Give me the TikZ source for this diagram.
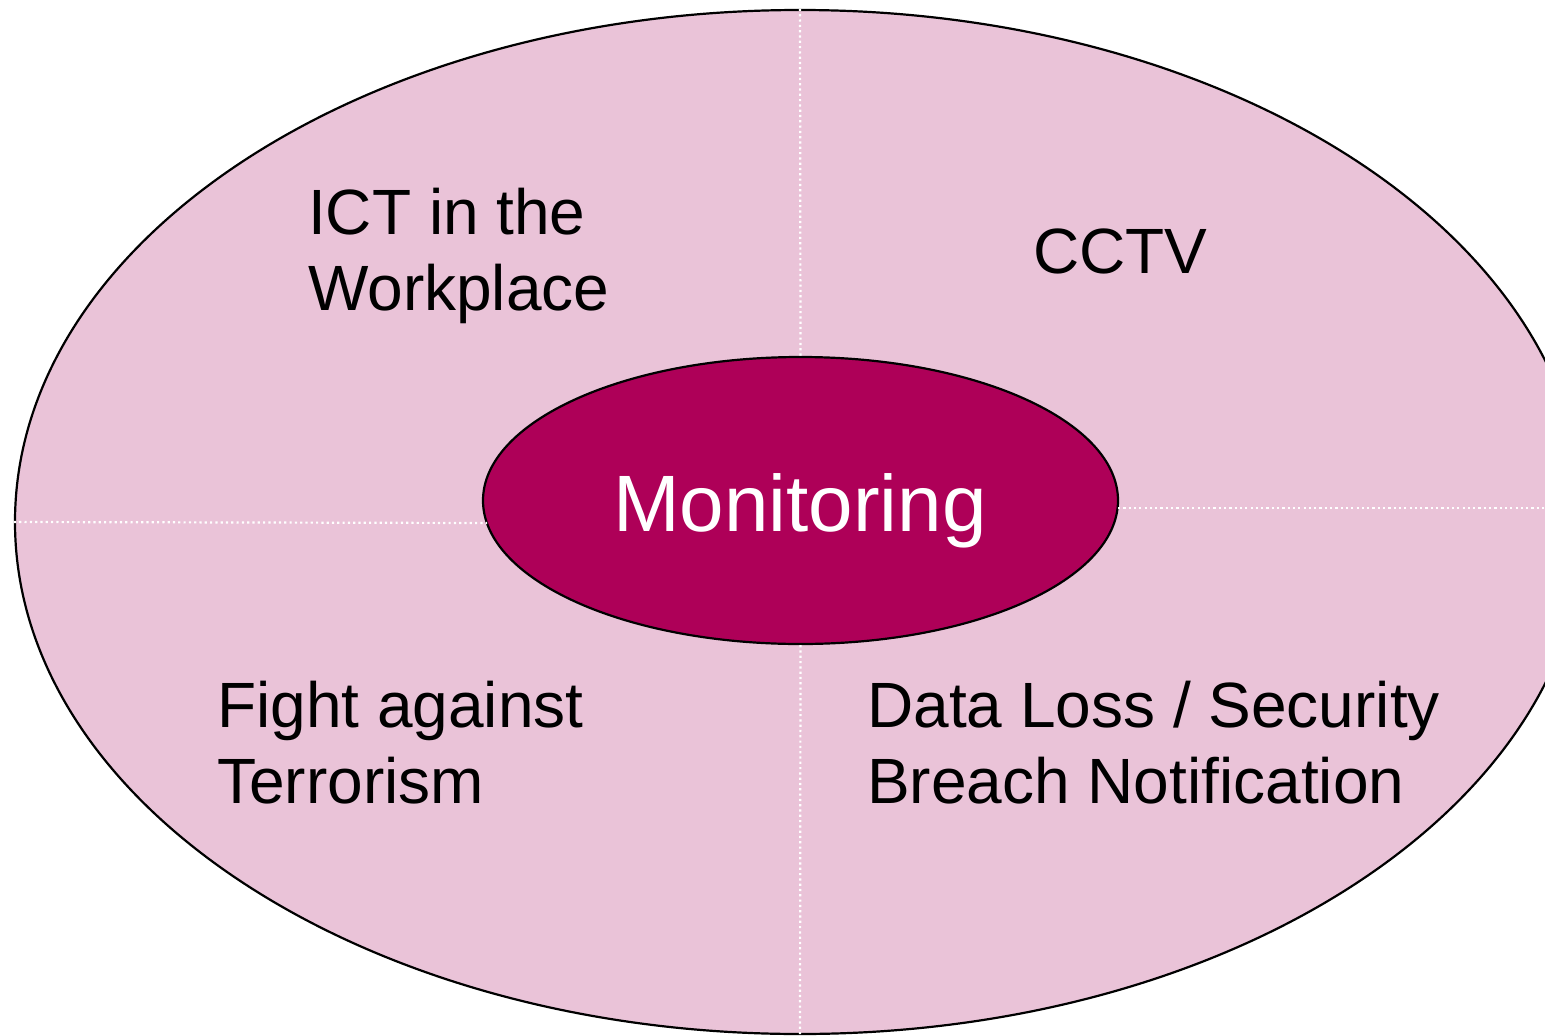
\documentclass[tikz,border=0pt]{standalone}
\usepackage{fontspec}
\setmainfont{Liberation Sans}
\usetikzlibrary{shapes.geometric}
\definecolor{ringpink}{RGB}{234,195,216}
\definecolor{corepink}{RGB}{174,0,88}
\tikzset{
    divider/.style={white, line width=2.2pt, dash pattern=on 2.2pt off 3.1pt},
    topic/.style={inner sep=0pt, align=left, anchor=base west,
        font=\fontsize{64}{76}\selectfont}
}

\begin{document}
\begin{tikzpicture}[x=1pt, y=-1pt]
        \useasboundingbox (0,0) rectangle (1545,1036);
        \clip (0,0) rectangle (1545,1036);
        \node [ellipse, draw, line width=2.2pt, fill=ringpink, inner sep=0pt,
            minimum width=1570pt, minimum height=1024pt] (outer) at (800,522) {};
        \node [ellipse, draw, line width=2.2pt, fill=corepink, inner sep=0pt,
            minimum width=635pt, minimum height=287pt] (mon) at (800.5,500.5) {};
        \node [text=white, inner sep=0pt, anchor=base,
            font=\fontsize{80}{90}\selectfont] (montext) at (800,531) {Monitoring};
        % dotted dividers
        \coordinate (rightend) at (1545,508);
        \draw [divider] (outer.north) -- (mon.north);
        \draw [divider] (mon.south) -- (outer.south);
        \draw [divider] (outer.west) -- (487,523);
        \draw [divider] (1118,508) -- (rightend);
        % topics
        \node [topic] (ict)    at (308,310) {ICT in the\\Workplace};
        \node [topic] (cctv)   at (1033,273) {CCTV};
        \node [topic] (terror) at (217,803) {Fight against\\Terrorism};
        \node [topic] (breach) at (867,803) {Data Loss / Security\\Breach Notification};
    \end{tikzpicture}
\end{document}
